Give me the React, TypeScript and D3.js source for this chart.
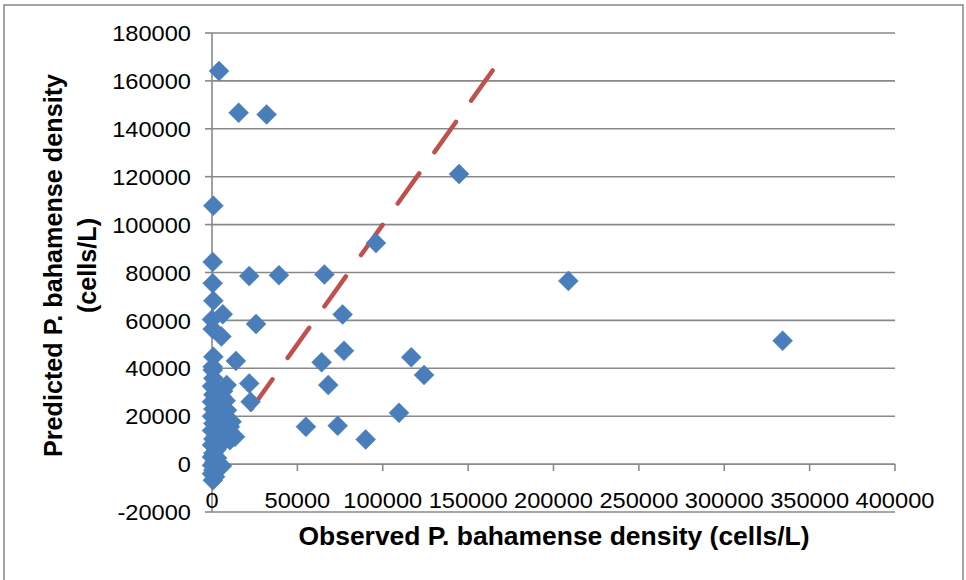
import React from "react";
import * as d3 from "d3";

const observed: number[] = [
  4100, 15600, 32000, 800, 144700, 96000, 208700, 334200, 21800, 39200, 65800,
  400, 400, 800, 6300, 0, 400, 5500, 25800, 76500, 77300, 64200, 116700, 124200,
  68100, 14000, 800, 400, 8600, 21800, 22600, 109500, 55000, 73600, 90000,
  400, 800, 0, 2500, 800, 4000, 5800, 0, 2500, 8800, 800, 4700, 0, 3000, 6500,
  11500, 800, 10500, 4000, 0, 7000, 13500, 2500, 10500, 800, 5000, 0, 4700, 2500,
  800, 0, 3000, 1500, 0, 3500, 5800, 800, 0, 1800, 500, 8000, 6500,
];
const predicted: number[] = [
  164100, 146700, 146000, 107900, 121100, 92300, 76500, 51500, 78500, 78900, 79200,
  84400, 75500, 68200, 62600, 60400, 56400, 53300, 58500, 62500, 47300, 42500, 44600, 37200,
  33000, 43100, 44800, 40600, 33000, 33700, 26000, 21400, 15600, 16000, 10300,
  39300, 35800, 32500, 31000, 29000, 27500, 28100, 26000, 24500, 22500, 23000, 22000, 20000, 19000, 19500,
  17700, 17000, 15600, 15500, 14000, 13500, 11400, 12000, 10000, 10500, 9500, 8000, 7900, 6000,
  4500, 3000, 2500, 1000, -500, -1100, -800, -2500, -4000, -5300, -6700, 26500, 30500,
];
const oneToOne: [number, number][] = [[0, 0], [165000, 165000]];
const xTicks: number[] = [0, 50000, 100000, 150000, 200000, 250000, 300000, 350000, 400000];
const yTicks: number[] = [-20000, 0, 20000, 40000, 60000, 80000, 100000, 120000, 140000, 160000, 180000];
const xTitle = "Observed P. bahamense density (cells/L)";
const yTitle1 = "Predicted P. bahamense density";
const yTitle2 = "(cells/L)";

export default function App() {
  const W = 966, H = 580;
  const x = d3.scaleLinear().domain([0, 400000]).range([212, 895]);
  const y = d3.scaleLinear().domain([-20000, 180000]).range([512, 33]);
  const grid = "#898989";
  const line = d3.line<[number, number]>().x((d) => x(d[0])).y((d) => y(d[1]));
  const pts = observed.map((o, i) => [o, predicted[i]] as [number, number]);
  const diamond = "M0,-10L10,0L0,10L-10,0Z";
  const font = "'Liberation Sans', Arial, sans-serif";
  const sx = 1.05;
  return (
    <svg width={W} height={H} style={{ position: "absolute", left: 0, top: 0, background: "#fff" }}>
      <rect x={4} y={5} width={959} height={580} fill="#fff" stroke="#868686" strokeWidth={1.5} />
      {yTicks.map((t) => (
        <g key={"gy" + t}>
          <line x1={x(0)} x2={x(400000)} y1={y(t)} y2={y(t)} stroke={grid} strokeWidth={1.6} />
          <line x1={x(0) - 7} x2={x(0)} y1={y(t)} y2={y(t)} stroke={grid} strokeWidth={1.6} />
          <g transform={`translate(191,${y(t)}) scale(${sx},1)`}>
            <text textAnchor="end" dy="0.36em" fontFamily={font} fontSize={22.5} fill="#000">{t}</text>
          </g>
        </g>
      ))}
      <line x1={x(0)} x2={x(0)} y1={y(-20000)} y2={y(180000)} stroke={grid} strokeWidth={1.6} />
      {xTicks.map((t) => (
        <g key={"gx" + t}>
          <line x1={x(t)} x2={x(t)} y1={y(0)} y2={y(0) + 7} stroke={grid} strokeWidth={1.6} />
          <g transform={`translate(${x(t)},508) scale(${sx},1)`}>
            <text textAnchor="middle" fontFamily={font} fontSize={22.5} fill="#000">{t}</text>
          </g>
        </g>
      ))}
      <path d={line(oneToOne) || ""} fill="none" stroke="#C0504D" strokeWidth={4.5}
        strokeDasharray="37,26.2" strokeDashoffset={-4} strokeLinecap="round" />
      {pts.map((p, i) => (
        <path key={i} d={diamond} transform={`translate(${x(p[0])},${y(p[1])})`} fill="#4A7EBB" stroke="#4F81BD" strokeWidth={0.5} />
      ))}
      <g transform={`translate(554,545) scale(${sx},1)`}>
        <text textAnchor="middle" fontFamily={font} fontWeight="bold" fontSize={25.2} fill="#000">{xTitle}</text>
      </g>
      <text transform="translate(61.5,265.5) rotate(-90)" textAnchor="middle" fontFamily={font} fontWeight="bold" fontSize={25.2} fill="#000">{yTitle1}</text>
      <text transform="translate(96,265.5) rotate(-90)" textAnchor="middle" fontFamily={font} fontWeight="bold" fontSize={25.2} fill="#000">{yTitle2}</text>
    </svg>
  );
}
